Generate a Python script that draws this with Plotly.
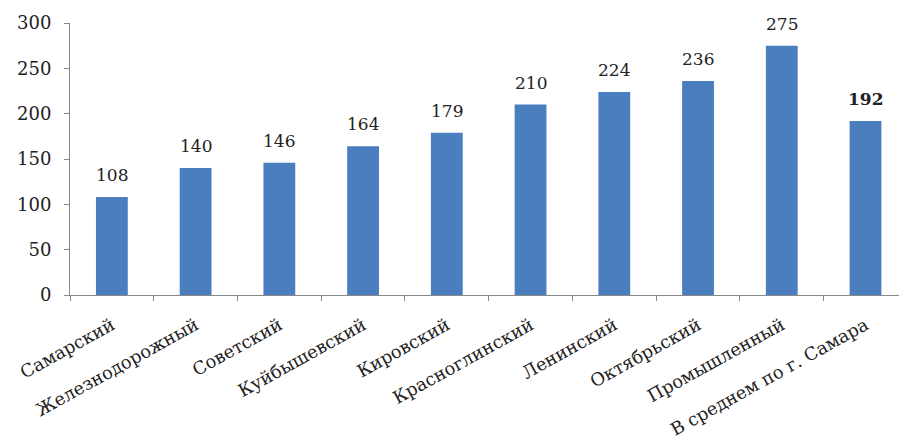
import plotly.graph_objects as go

districts = [
    "Самарский", "Железнодорожный", "Советский", "Куйбышевский", "Кировский",
    "Красноглинский", "Ленинский", "Октябрьский", "Промышленный",
    "В среднем по г. Самара",
]
values = [108, 140, 146, 164, 179, 210, 224, 236, 275, 192]

# the city-wide average is highlighted in bold
labels = [str(v) for v in values[:-1]] + [f"<b>{values[-1]}</b>"]

font_family = "DejaVu Serif"
text_color = "#222222"

fig = go.Figure(
    go.Bar(
        x=districts,
        y=values,
        marker=dict(color="#4a7ebf", line=dict(width=0)),
    )
)

# value labels sit a little above each bar
for name, v, lab in zip(districts, values, labels):
    fig.add_annotation(
        x=name, y=v, text=lab, showarrow=False,
        yanchor="bottom", yshift=10,
        font=dict(family=font_family, size=17, color=text_color),
    )

fig.update_layout(
    width=899,
    height=441,
    margin=dict(l=70, r=0, t=23, b=146),
    plot_bgcolor="white",
    paper_bgcolor="white",
    bargap=0.62,
    showlegend=False,
    font=dict(family=font_family, size=16, color=text_color),
)

fig.update_xaxes(
    range=[-0.5, 9.4],
    tickangle=-29,
    tickson="boundaries",
    ticks="outside",
    ticklen=5,
    tickcolor="#888888",
    showline=True,
    linecolor="#888888",
    linewidth=1,
    showgrid=False,
    ticklabelstandoff=12,
    tickfont=dict(family=font_family, size=17.8, color=text_color),
)

fig.update_yaxes(
    range=[0, 300],
    tickvals=[0, 50, 100, 150, 200, 250, 300],
    ticks="outside",
    ticklen=5,
    tickcolor="#888888",
    showline=True,
    linecolor="#888888",
    linewidth=1,
    showgrid=False,
    zeroline=False,
    ticklabelstandoff=9,
    tickfont=dict(family=font_family, size=18, color=text_color),
)

fig.write_html("out.html")
